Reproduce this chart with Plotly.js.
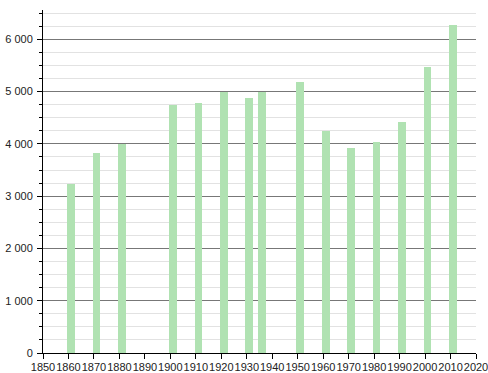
<!DOCTYPE html>
<html>
<head>
<meta charset="utf-8">
<script src="https://cdn.plot.ly/plotly-3.0.1.min.js"></script>
<style>html,body{margin:0;padding:0;background:#fff}#chart{width:488px;height:373px}</style>
</head>
<body>
<div id="chart"></div>
<script>
const years = [1861, 1871, 1881, 1901, 1911, 1921, 1931, 1936, 1951, 1961, 1971, 1981, 1991, 2001, 2011];
const population = [3241, 3827, 3990, 4745, 4783, 4995, 4878, 4995, 5184, 4242, 3923, 4038, 4414, 5471, 6274];
const xTickVals = [1850, 1860, 1870, 1880, 1890, 1900, 1910, 1920, 1930, 1940, 1950, 1960, 1970, 1980, 1990, 2000, 2010, 2020];

const data = [{
  type: 'bar',
  x: years,
  y: population,
  width: 3,
  marker: {color: 'rgb(176,226,178)', line: {width: 0}},
  hoverinfo: 'x+y'
}];

const layout = {
  width: 488, height: 373,
  margin: {l: 43, r: 12, t: 10, b: 20, pad: 0},
  paper_bgcolor: '#fff', plot_bgcolor: '#fff',
  separators: ', ',
  font: {family: 'Liberation Sans, Arial, sans-serif', size: 11, color: '#222'},
  showlegend: false,
  bargap: 0,
  xaxis: {
    range: [1849.999, 2020.001],
    tickvals: xTickVals,
    ticktext: xTickVals.map(String),
    tickangle: 0,
    automargin: false,
    ticklabeloverflow: 'allow',
    showgrid: false, zeroline: false,
    showline: true, linecolor: '#000', linewidth: 1,
    ticks: 'outside', ticklen: 5, tickcolor: '#000',
    ticklabelstandoff: -1,
    fixedrange: true
  },
  yaxis: {
    range: [0, 6560],
    dtick: 1000, tick0: 0,
    separatethousands: true,
    automargin: false,
    ticklabelstandoff: 2,
    showgrid: true, gridcolor: '#777', gridwidth: 1,
    zeroline: false,
    showline: true, linecolor: '#000', linewidth: 1,
    ticks: 'outside', ticklen: 5, tickcolor: '#000',
    minor: {dtick: 250, showgrid: true, gridcolor: '#e2e2e2', ticks: 'outside', ticklen: 3, tickcolor: '#000'},
    fixedrange: true
  }
};

Plotly.newPlot('chart', data, layout, {displayModeBar: false, staticPlot: true});
</script>
</body>
</html>
